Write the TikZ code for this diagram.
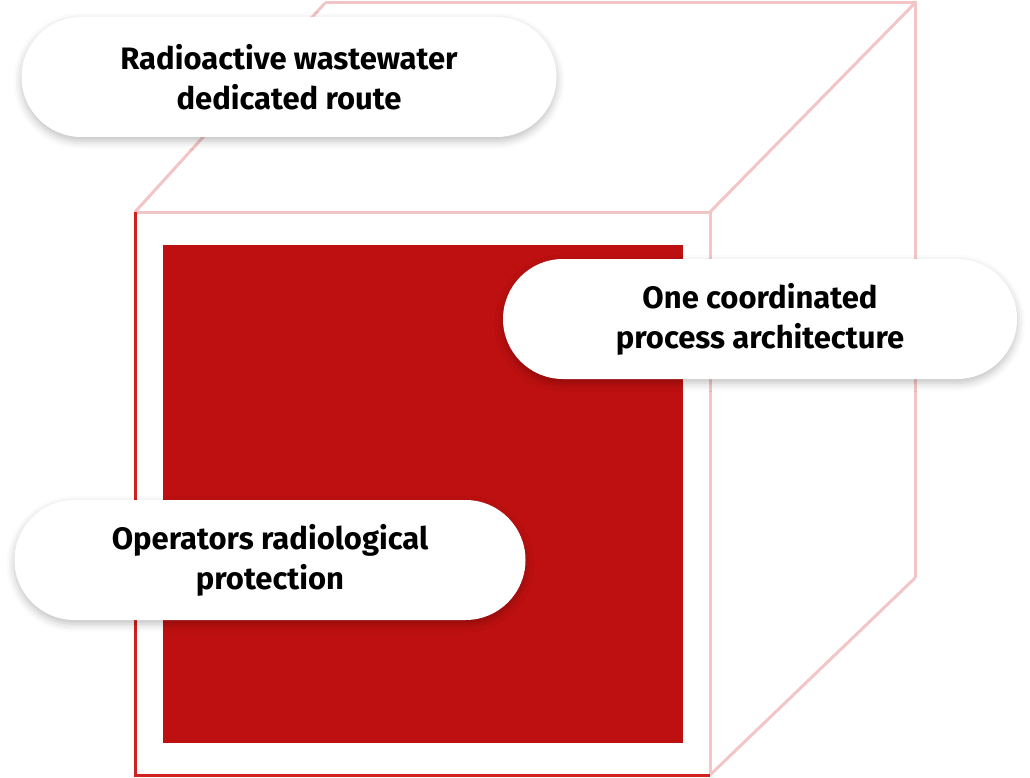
\documentclass[tikz,border=0pt]{standalone}
\usepackage{fontspec}
\setmainfont{Fira Sans}
\usetikzlibrary{shadows.blur}
\definecolor{cubered}{HTML}{BE1010}
\definecolor{edgepink}{HTML}{F2C6C6}
\definecolor{edgered}{HTML}{D02020}
\tikzset{
  pill/.style={draw=none,fill=white,rounded corners=60pt,minimum height=120pt,
    align=center,font=\bfseries\fontsize{31}{40}\selectfont,
    blur shadow={shadow xshift=0pt,shadow yshift=-4pt,shadow blur radius=8pt,shadow opacity=25}},
  faint/.style={edgepink,line width=3pt},
  strong/.style={edgered,line width=3pt}
}
\begin{document}
\begin{tikzpicture}[x=1pt,y=-1pt]
  \useasboundingbox (0,0) rectangle (1030,778);
  % cube corners
  \coordinate (ftl) at (135,212);
  \coordinate (ftr) at (710,212);
  \coordinate (fbl) at (135,775);
  \coordinate (fbr) at (710,775);
  \coordinate (btl) at (325,3);
  \coordinate (btr) at (915,3);
  \coordinate (bbr) at (915,578);
  \draw[faint] (btl) -- (btr) -- (bbr);
  \draw[faint] (ftl) -- (btl);
  \draw[faint] (ftr) -- (btr);
  \draw[faint] (fbr) -- (bbr);
  \draw[faint] (ftl) -- (ftr) -- (fbr);
  \draw[strong] (ftl) -- (fbl) -- (fbr);
  % front square
  \fill[cubered] (163,245) rectangle (683,743);
  % labels
  \node[pill,minimum width=535pt] (route) at (289,77) {Radioactive wastewater\\dedicated route};
  \node[pill,minimum width=514pt] (arch) at (760,319) {One coordinated\\process architecture};
  \node[pill,minimum width=511pt] (prot) at (270,560) {Operators radiological\\protection};
\end{tikzpicture}
\end{document}
